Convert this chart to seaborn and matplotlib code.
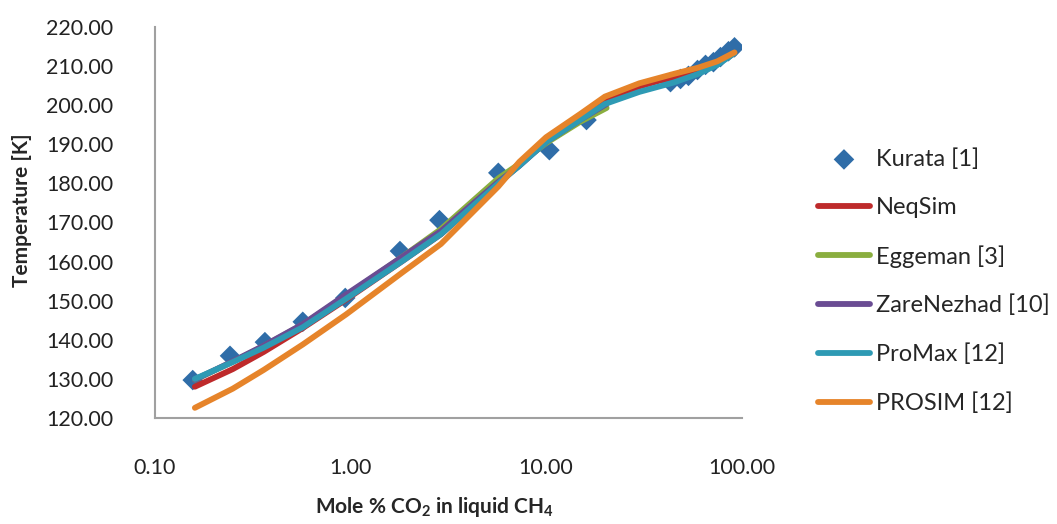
import numpy as np
import pandas as pd
import matplotlib
matplotlib.use('Agg')
import matplotlib.pyplot as plt
import matplotlib.ticker as mticker
import seaborn as sns

# Kurata [1] experimental points
kurata_x = [0.156, 0.242, 0.365, 0.57, 0.94, 1.79, 2.85, 5.7, 10.4, 16.1,
            43.3, 48.7, 53.5, 59.5, 65.4, 71.8, 78.0, 85.7, 92.0]
kurata_t = [129.7, 135.9, 139.4, 144.6, 150.7, 162.7, 170.6, 182.7, 188.5, 196.2,
            205.9, 206.7, 207.5, 209.0, 210.3, 211.0, 212.3, 213.8, 214.8]

# model curves
x_full = [0.16, 0.25, 0.36, 0.57, 0.95, 1.85, 2.9, 5.7, 7.3, 10, 15, 20, 30, 45, 60, 75, 92]
x_short = [0.16, 0.25, 0.36, 0.57, 0.95, 1.85, 2.9, 5.7, 7.3, 10, 15, 20.4]

neqsim_t = [128.0, 132.5, 136.9, 143.0, 150.3, 160.2, 167.0, 180.0, 184.6, 190.8,
            196.8, 201.3, 204.8, 207.3, 209.0, 210.8, 213.3]
eggeman_t = [129.8, 134.4, 138.4, 143.9, 151.3, 161.3, 168.3, 181.3, 185.0, 190.3,
             195.8, 199.3]
zare_t = [129.8, 134.5, 138.5, 144.0, 151.6, 161.3, 167.8, 180.4, 184.5, 190.6,
          196.3, 200.3]
promax_t = [130.0, 134.3, 138.0, 143.2, 150.5, 160.2, 167.0, 180.0, 184.5, 190.6,
            196.3, 200.3, 203.4, 205.8, 208.0, 210.3, 213.3]
prosim_t = [122.6, 127.5, 132.3, 138.8, 146.5, 157.3, 164.5, 179.2, 185.5, 191.8,
            197.8, 202.2, 205.6, 208.0, 209.6, 211.2, 213.5]

sns.set_theme(style='white')
plt.rcParams['font.family'] = ['Lato', 'DejaVu Sans']
plt.rcParams['mathtext.fontset'] = 'custom'
plt.rcParams['mathtext.rm'] = 'Lato:bold'
plt.rcParams['mathtext.bf'] = 'Lato:bold'

fig = plt.figure(figsize=(10.57, 5.24), dpi=100)
ax = fig.add_axes([0.1466, 0.2023, 0.555, 0.7462])

sns.scatterplot(x=kurata_x, y=kurata_t, marker='D', s=110, color='#2F6DA8',
                edgecolor='none', label='Kurata [1]', ax=ax, zorder=2)

lines = [
    ('NeqSim', x_full, neqsim_t, '#BE2A2B'),
    ('Eggeman [3]', x_short, eggeman_t, '#8AAE3F'),
    ('ZareNezhad [10]', x_short, zare_t, '#6A4C93'),
    ('ProMax [12]', x_full, promax_t, '#2E9AB4'),
    ('PROSIM [12]', x_full, prosim_t, '#E6842A'),
]
for i, (name, xs, ts, col) in enumerate(lines):
    sns.lineplot(x=xs, y=ts, color=col, lw=4.2, label=name, ax=ax,
                 sort=False, estimator=None, solid_capstyle='round', zorder=3 + i)

ax.set_xscale('log')
ax.set_xlim(0.1, 100)
ax.set_ylim(120, 220)
ax.xaxis.set_major_locator(mticker.FixedLocator([0.1, 1, 10, 100]))
ax.xaxis.set_minor_locator(mticker.NullLocator())
ax.xaxis.set_major_formatter(mticker.FuncFormatter(lambda v, p: f'{v:.2f}'))
ax.yaxis.set_major_locator(mticker.MultipleLocator(10))
ax.yaxis.set_major_formatter(mticker.FuncFormatter(lambda v, p: f'{v:.2f}'))
ax.tick_params(axis='both', length=0, labelsize=15.5, colors='#222222')
ax.tick_params(axis='x', pad=29)
ax.tick_params(axis='y', pad=30)

for side in ['top', 'right']:
    ax.spines[side].set_visible(False)
for side in ['left', 'bottom']:
    ax.spines[side].set_color('#A0A0A0')
    ax.spines[side].set_linewidth(1.5)

ax.set_ylabel('Temperature [K]', fontsize=15, fontweight='bold')
ax.yaxis.set_label_coords(-0.21, 0.532)
ax.set_xlabel(r'Mole % CO$_\mathbf{2}$ in liquid CH$_\mathbf{4}$', fontsize=15,
              fontweight='bold')
ax.xaxis.set_label_coords(0.477, -0.197)

handles, labels = ax.get_legend_handles_labels()
ax.legend(handles, labels, loc='upper left', bbox_to_anchor=(818 / 1057, 1 - 148 / 524),
          bbox_transform=fig.transFigure, frameon=False, fontsize=17,
          handlelength=2.2, handletextpad=0.25, labelspacing=1.15, borderpad=0,
          borderaxespad=0)

fig.savefig('out.png', dpi=100)
